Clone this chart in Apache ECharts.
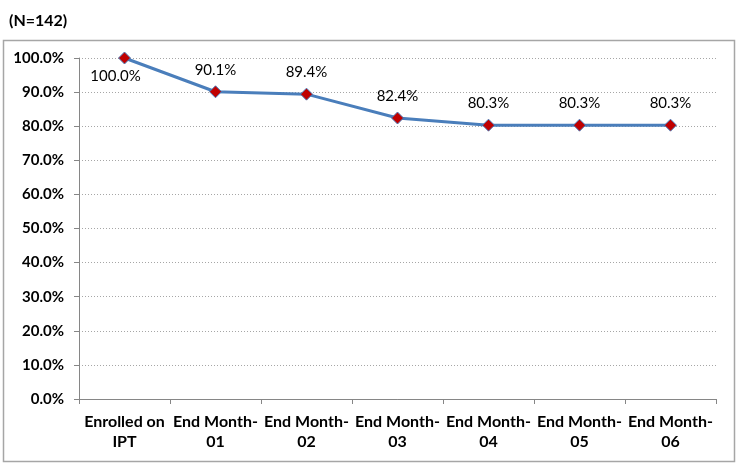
<!DOCTYPE html>
<html><head><meta charset="utf-8">
<script src="https://cdn.jsdelivr.net/npm/echarts@6/dist/echarts.min.js"></script>
<style>html,body{margin:0;padding:0;background:#fff}#c{width:738px;height:464px}</style>
</head><body><div id="c"></div>
<script>
const categories = ['Enrolled on\nIPT','End Month-\n01','End Month-\n02','End Month-\n03','End Month-\n04','End Month-\n05','End Month-\n06'];
const values = [100.0, 90.1, 89.4, 82.4, 80.3, 80.3, 80.3];
const titleText = '(N=142)';

const chart = echarts.init(document.getElementById('c'), null, {renderer:'canvas'});
const font = 'Lato, "Open Sans", sans-serif';
const seriesData = values.map((v,i)=> i===0
  ? {value:v,label:{position:'bottom',distance:4,offset:[-9,0]}}
  : v);
chart.setOption({
  animation:false,
  title:{text:titleText,left:4,top:8,textStyle:{fontFamily:font,fontWeight:'bold',fontSize:16,color:'#000'}},
  graphic:[{type:'rect',shape:{x:3.5,y:40.5,width:731,height:421},style:{fill:'none',stroke:'#a6a6a6',lineWidth:1.5},silent:true,z:-1}],
  grid:{left:79,right:22,top:58,bottom:65},
  xAxis:{type:'category',data:categories,boundaryGap:true,
    axisLine:{lineStyle:{color:'#868686'}},
    axisTick:{show:true,alignWithLabel:false,length:5,lineStyle:{color:'#868686'}},
    axisLabel:{fontFamily:font,fontWeight:'bold',fontSize:16,color:'#000',margin:13,lineHeight:20,interval:0}},
  yAxis:{type:'value',min:0,max:100,interval:10,
    axisLine:{show:true,lineStyle:{color:'#868686'}},
    axisTick:{show:true,length:5,lineStyle:{color:'#868686'}},
    splitLine:{lineStyle:{color:'#a6a6a6',type:[1,2],width:1}},
    axisLabel:{fontFamily:font,fontWeight:'bold',fontSize:15,color:'#000',margin:15,formatter:v=>v.toFixed(1)+'%'}},
  series:[{type:'line',data:seriesData,
    lineStyle:{color:'#4a7ebb',width:3},
    symbol:'diamond',symbolSize:12,
    itemStyle:{color:'#c00000',borderColor:'#4a7ebb',borderWidth:1},
    label:{show:true,fontFamily:font,fontSize:15,color:'#000',
      position:'top',distance:8,formatter:p=>p.value.toFixed(1)+'%'}
  }]
});
</script></body></html>
